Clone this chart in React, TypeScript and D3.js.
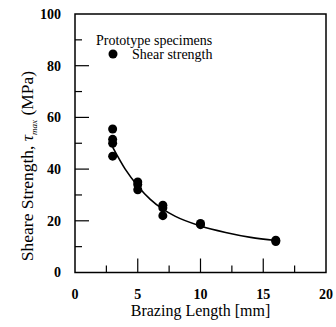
import React, { useEffect, useRef } from 'react';
import * as d3 from 'd3';

// measured points (brazing length mm, shear strength MPa)
const specimenLength = [3, 3, 3, 3, 5, 5, 5, 7, 7, 7, 10, 10, 16, 16];
const specimenStrength = [55.5, 51.5, 50, 45, 35, 34, 32, 26, 25, 22, 19, 18.5, 12.5, 12];

// fitted trend line
const fitLength = [3, 4, 5, 6, 7, 8, 10, 12, 14, 16];
const fitStrength = [48.5, 40, 33.5, 28.3, 24.5, 21.7, 18, 15.5, 13.6, 12.4];

const xTicks = [0, 5, 10, 15, 20];
const yTicks = [0, 20, 40, 60, 80, 100];

const W = 336;
const H = 327;

const App = () => {
  const svgRef = useRef<SVGSVGElement | null>(null);

  useEffect(() => {
    if (!svgRef.current) return;
    const margin = { top: 14, right: 10, bottom: 54.5, left: 75 };
    const svg = d3.select(svgRef.current);
    svg.selectAll('*').remove();

    const x = d3.scaleLinear().domain([0, 20]).range([margin.left, W - margin.right]);
    const y = d3.scaleLinear().domain([0, 100]).range([H - margin.bottom, margin.top]);

    const g = svg.append('g').attr('font-family', 'Liberation Serif, Times New Roman, serif');

    // frame
    g.append('rect')
      .attr('x', x(0))
      .attr('y', y(100))
      .attr('width', x(20) - x(0))
      .attr('height', y(0) - y(100))
      .attr('fill', 'none')
      .attr('stroke', '#000')
      .attr('stroke-width', 1.5);

    // inward ticks, majors longer
    d3.range(0, 20.01, 2.5).forEach(v => {
      if (v === 0 || v === 20) return;
      const len = v % 5 === 0 ? 14 : 7;
      g.append('line')
        .attr('x1', x(v)).attr('x2', x(v))
        .attr('y1', y(0)).attr('y2', y(0) - len)
        .attr('stroke', '#000').attr('stroke-width', 1.2);
    });
    d3.range(0, 100.01, 10).forEach(v => {
      if (v === 0 || v === 100) return;
      const len = v % 20 === 0 ? 14 : 7;
      g.append('line')
        .attr('x1', x(0)).attr('x2', x(0) + len)
        .attr('y1', y(v)).attr('y2', y(v))
        .attr('stroke', '#000').attr('stroke-width', 1.2);
    });

    // tick labels
    g.selectAll('.xt')
      .data(xTicks)
      .enter()
      .append('text')
      .attr('x', d => x(d))
      .attr('y', y(0) + 26)
      .attr('text-anchor', 'middle')
      .attr('font-size', 14)
      .attr('font-weight', 'bold')
      .text(d => d);

    g.selectAll('.yt')
      .data(yTicks)
      .enter()
      .append('text')
      .attr('x', x(0) - 14)
      .attr('y', d => y(d))
      .attr('dy', '0.35em')
      .attr('text-anchor', 'end')
      .attr('font-size', 14)
      .attr('font-weight', 'bold')
      .text(d => d);

    // axis titles
    g.append('text')
      .attr('x', (x(0) + x(20)) / 2)
      .attr('y', H - 11)
      .attr('text-anchor', 'middle')
      .attr('font-size', 16)
      .text('Brazing Length [mm]');

    const yt = g.append('text')
      .attr('transform', `translate(33, 166) rotate(-90)`)
      .attr('text-anchor', 'middle')
      .attr('font-size', 17.5);
    yt.append('tspan').text('Sheare Strength, ');
    yt.append('tspan').attr('font-style', 'italic').text('τ');
    yt.append('tspan').attr('dy', 4).attr('font-size', 9).attr('font-style', 'italic').text('max');
    yt.append('tspan').attr('dy', -4).text('  (MPa)');

    // fitted curve
    const line = d3.line<number>()
      .x((d, i) => x(fitLength[i]))
      .y(d => y(d))
      .curve(d3.curveMonotoneX);
    g.append('path')
      .attr('d', line(fitStrength) || '')
      .attr('fill', 'none')
      .attr('stroke', '#000')
      .attr('stroke-width', 1.6);

    // points
    g.selectAll('.pt')
      .data(specimenStrength)
      .enter()
      .append('circle')
      .attr('cx', (d, i) => x(specimenLength[i]))
      .attr('cy', d => y(d))
      .attr('r', 4.5)
      .attr('fill', '#000');

    // legend
    g.append('text')
      .attr('x', 96)
      .attr('y', 45)
      .attr('font-size', 14)
      .text('Prototype specimens');
    g.append('circle')
      .attr('cx', 113)
      .attr('cy', 54)
      .attr('r', 4.5)
      .attr('fill', '#000');
    g.append('text')
      .attr('x', 132)
      .attr('y', 58.5)
      .attr('font-size', 14)
      .text('Shear strength');
  }, []);

  return (
    <svg
      ref={svgRef}
      width={W}
      height={H}
      style={{ position: 'absolute', left: 0, top: 0, background: '#fff' }}
    />
  );
};

export default App;
